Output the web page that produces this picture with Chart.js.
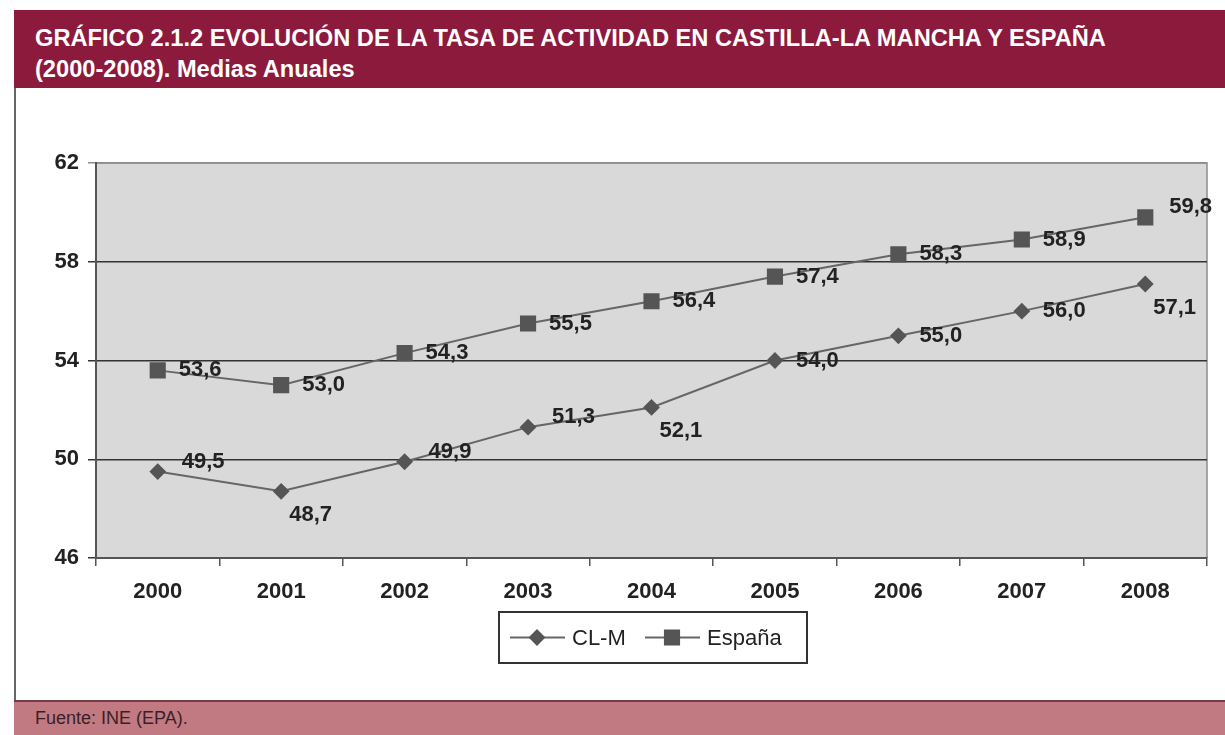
<!DOCTYPE html>
<html lang="es">
  <head>
    <meta charset="UTF-8">
    <title>Tasa de actividad</title>
    <script src="https://cdn.jsdelivr.net/npm/chart.js@4.4.1/dist/chart.umd.min.js"></script>
    <style>
      body { margin: 0; background: #fff; width: 1225px; height: 735px; position: relative; overflow: hidden; font-family: "Liberation Sans", Arial, sans-serif; }
      #head { position: absolute; left: 14px; top: 10px; width: 1211px; height: 78px; background: #8b1a3d; color: #fff;
              font-weight: bold; font-size: 24px; line-height: 31px; box-sizing: border-box; padding: 12px 0 0 21px; white-space: nowrap; }
      #head span { display: block; transform: scaleX(0.985); transform-origin: left center; }
      #panel { position: absolute; left: 14px; top: 88px; width: 1211px; height: 612px; border-left: 2px solid #666; box-sizing: border-box; }
      #foot { position: absolute; left: 14px; top: 700px; width: 1211px; height: 35px; background: #c27a82; border-top: 2px solid #7a3a44; box-sizing: border-box;
              color: #3a1f27; font-size: 18px; padding: 6px 0 0 21px; }
      #wrap { position: absolute; left: 15px; top: 88px; width: 1210px; height: 612px; }
    </style>
  </head>
  <body>
    <div id="head"><span>GRÁFICO 2.1.2 EVOLUCIÓN DE LA TASA DE ACTIVIDAD EN CASTILLA-LA MANCHA Y ESPAÑA</span><span>(2000-2008). Medias Anuales</span></div>
    <div id="panel"></div>
    <div id="wrap"><canvas id="myChart" width="1210" height="612"></canvas></div>
    <div id="foot">Fuente: INE (EPA).</div>

    <script>
      const years = ['2000', '2001', '2002', '2003', '2004', '2005', '2006', '2007', '2008'];
      const clm = [49.5, 48.7, 49.9, 51.3, 52.1, 54.0, 55.0, 56.0, 57.1];
      const espana = [53.6, 53.0, 54.3, 55.5, 56.4, 57.4, 58.3, 58.9, 59.8];
      const yTicks = [46, 50, 54, 58, 62];

      // where each value label sits relative to its point: r = right, b = below right, a = above right
      const clmLabelPos = ['a', 'b', 'a', 'a', 'b', 'r', 'r', 'r', 'b'];
      const espLabelPos = ['r', 'r', 'r', 'r', 'r', 'r', 'r', 'r', 'a'];

      const plotBg = {
        id: 'plotBg',
        beforeDraw(chart) {
          const { ctx, chartArea: a } = chart;
          ctx.save();
          ctx.fillStyle = '#d9d9d9';
          ctx.fillRect(a.left, a.top, a.right - a.left, a.bottom - a.top);
          ctx.strokeStyle = '#8c8c8c';
          ctx.lineWidth = 1.5;
          ctx.beginPath();
          ctx.moveTo(a.left, a.top);
          ctx.lineTo(a.right, a.top);
          ctx.lineTo(a.right, a.bottom);
          ctx.stroke();
          ctx.restore();
        }
      };

      const valueLabels = {
        id: 'valueLabels',
        afterDatasetsDraw(chart) {
          const ctx = chart.ctx;
          ctx.save();
          ctx.font = 'bold 22px "Liberation Sans", Arial, sans-serif';
          ctx.fillStyle = '#222';
          ctx.textBaseline = 'middle';
          ctx.textAlign = 'left';
          chart.data.datasets.forEach((ds, i) => {
            const pos = i === 0 ? clmLabelPos : espLabelPos;
            chart.getDatasetMeta(i).data.forEach((pt, j) => {
              let dx = 21, dy = 0;
              if (pos[j] === 'a') { dx = 24; dy = -10; }
              if (pos[j] === 'b') { dx = 8; dy = 24; }
              ctx.fillText(ds.data[j].toFixed(1).replace('.', ','), pt.x + dx, pt.y + dy);
            });
          });
          ctx.restore();
        }
      };

      const boxLegend = {
        id: 'boxLegend',
        afterDraw(chart) {
          const ctx = chart.ctx;
          const x0 = 484, y0 = 524, w = 308, h = 51;
          ctx.save();
          ctx.fillStyle = '#fff';
          ctx.fillRect(x0, y0, w, h);
          ctx.strokeStyle = '#333';
          ctx.lineWidth = 2;
          ctx.strokeRect(x0, y0, w, h);
          const cy = y0 + h / 2;
          const items = [
            { x: 495, style: 'rectRot', r: 7 },
            { x: 630, style: 'rect', r: 10 }
          ];
          ctx.font = '22px "Liberation Sans", Arial, sans-serif';
          ctx.textBaseline = 'middle';
          items.forEach((it, i) => {
            ctx.strokeStyle = '#666';
            ctx.lineWidth = 2;
            ctx.beginPath();
            ctx.moveTo(it.x, cy);
            ctx.lineTo(it.x + 55, cy);
            ctx.stroke();
            ctx.fillStyle = '#555';
            ctx.strokeStyle = '#555';
            Chart.helpers.drawPoint(ctx, { pointStyle: it.style, radius: it.r, borderWidth: 1 }, it.x + 27, cy);
            ctx.fillStyle = '#222';
            ctx.fillText(chart.data.datasets[i].label, it.x + 62, cy + 1);
          });
          ctx.restore();
        }
      };

      const ctx = document.getElementById('myChart').getContext('2d');
      const myChart = new Chart(ctx, {
        type: 'line',
        data: {
          labels: years,
          datasets: [
            {
              label: 'CL-M',
              data: clm,
              borderColor: '#666',
              borderWidth: 2,
              pointStyle: 'rectRot',
              pointRadius: 7,
              pointBackgroundColor: '#555',
              pointBorderColor: '#555',
              tension: 0
            },
            {
              label: 'España',
              data: espana,
              borderColor: '#666',
              borderWidth: 2,
              pointStyle: 'rect',
              pointRadius: 10,
              pointBackgroundColor: '#555',
              pointBorderColor: '#555',
              tension: 0
            }
          ]
        },
        options: {
          responsive: false,
          animation: false,
          layout: { padding: { left: 0, right: 18, top: 75, bottom: 92 } },
          plugins: { legend: { display: false }, tooltip: { enabled: false } },
          scales: {
            x: {
              offset: true,
              afterFit: s => { s.height = 50; },
              grid: { offset: true, drawOnChartArea: false, drawTicks: true, tickLength: 8, color: '#555', lineWidth: 1.5 },
              border: { display: true, color: '#555', width: 2 },
              ticks: { padding: 13, color: '#222', font: { family: '"Liberation Sans", Arial, sans-serif', size: 22, weight: 'bold' } }
            },
            y: {
              min: 46,
              max: 62,
              afterFit: s => { s.width = 81; },
              afterBuildTicks: s => { s.ticks = yTicks.map(v => ({ value: v })); },
              grid: {
                tickLength: 8,
                color: c => (c.tick && (c.tick.value === 62) ? '#8c8c8c' : '#333'),
                lineWidth: 1.5
              },
              border: { display: true, color: '#555', width: 2 },
              ticks: { padding: 9, color: '#222', font: { family: '"Liberation Sans", Arial, sans-serif', size: 22, weight: 'bold' } }
            }
          }
        },
        plugins: [plotBg, valueLabels, boxLegend]
      });
    </script>
  </body>
</html>
